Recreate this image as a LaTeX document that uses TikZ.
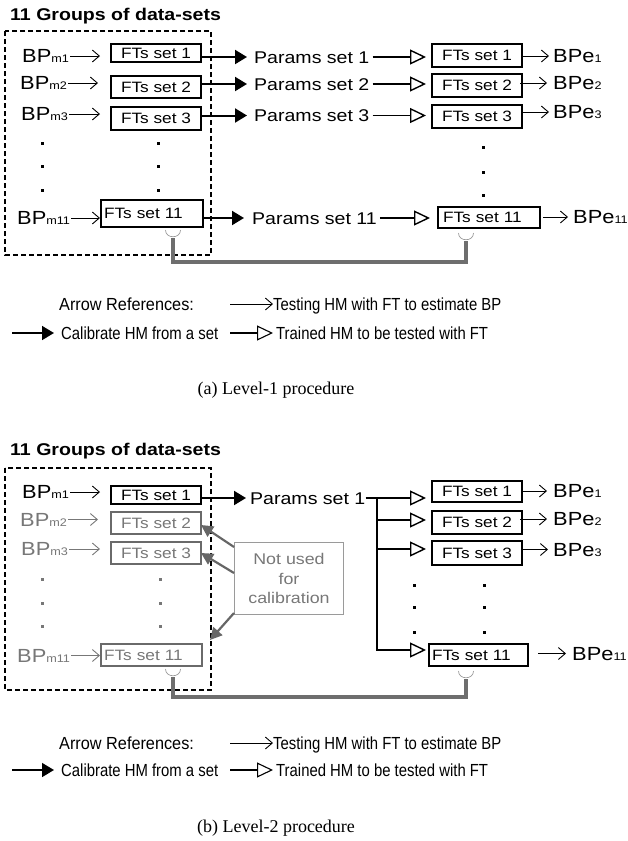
\documentclass[tikz,border=0pt]{standalone}
\usepackage{fontspec}
\setmainfont[FakeStretch=1.15]{Liberation Sans}
\newfontfamily\legfont[FakeStretch=0.85]{Liberation Sans}
\newfontfamily\legfontw[FakeStretch=0.93]{Liberation Sans}
\newfontfamily\capfont{Liberation Serif}
\usetikzlibrary{arrows.meta}
\definecolor{fbgray}{HTML}{6E6E6E}
\definecolor{gtext}{HTML}{777777}
\definecolor{gbox}{HTML}{6A6A6A}
\definecolor{nbox}{HTML}{9A9A9A}
\definecolor{garrow}{HTML}{666666}
\newcommand{\myfs}[1]{\fontsize{#1}{#1}\selectfont}
\newcommand{\bpmlab}[1]{{\myfs{19}BP}{\myfs{11}m#1}}
\newcommand{\bpelab}[1]{{\myfs{19}BPe}{\myfs{11}#1}}
\newcommand{\sqdot}[3]{\fill[#3] ({#1-1.5},{#2-1.5}) rectangle ++(3,3);}
\tikzset{
  ftbox/.style={draw, line width=2pt, inner sep=0pt, minimum width=90pt,
    font=\myfs{15}, text height=10.7pt, text depth=0pt},
  gftbox/.style={ftbox, draw=gbox, text=gtext},
  leftft/.style={inner xsep=3pt, align=left, text width=#1},
  bplab/.style={inner sep=0pt, anchor=west, text height=13.6pt, text depth=0pt},
  partxt/.style={inner sep=0pt, anchor=west, font=\myfs{17}, text height=12.2pt, text depth=0pt},
  legtxt/.style={inner sep=0pt, anchor=west, font=\legfont\myfs{17.5}, text height=12.5pt, text depth=0pt},
  legreftxt/.style={legtxt, font=\legfontw\myfs{17.5}},
  titletxt/.style={inner sep=0pt, anchor=west, font=\bfseries\myfs{17}, text height=12.2pt, text depth=0pt},
  captxt/.style={inner sep=0pt, font=\capfont\myfs{18}},
  testarr/.style={line width=0.9pt, -{Straight Barb[length=7pt,width=12pt]}},
  calarr/.style={line width=2pt, -{Triangle[length=12pt,width=14pt]}},
  trainarr/.style={line width=1.4pt, -{Triangle[open,length=16pt,width=15pt,fill=white]}},
  grayarr/.style={draw=garrow, line width=2.2pt, -{Triangle[length=12pt,width=12pt]}},
  feedback/.style={draw=fbgray, line width=4.5pt, line join=miter},
  cupline/.style={draw=gray!80, line width=0.7pt},
  dashbox/.style={line width=2pt, dash pattern=on 5pt off 3pt},
  notused/.style={draw=nbox, line width=1pt, text=gtext, inner sep=0pt,
    minimum width=109pt, minimum height=72pt, align=center,
    font=\fontsize{15.5}{19.5}\selectfont}
}
\begin{document}
\begin{tikzpicture}[x=1pt,y=-1pt]
\useasboundingbox (0,0) rectangle (628,841);

% ================= Panel (a) =================
\node[titletxt] (titlea) at (10,14) {11 Groups of data-sets};
\draw[dashbox] (5,31) rectangle (211,255);

\node[bplab] (bpm1a) at (22,56) {\bpmlab{1}};
\node[bplab] (bpm2a) at (20,83) {\bpmlab{2}};
\node[bplab] (bpm3a) at (21,114) {\bpmlab{3}};
\node[bplab] (bpm11a) at (17,218) {\bpmlab{11}};

\node[ftbox, minimum height=18pt] (ft1a) at (156,53) {FTs set 1};
\node[ftbox, minimum height=22pt] (ft2a) at (156,87) {FTs set 2};
\node[ftbox, minimum height=23pt] (ft3a) at (156,118.5) {FTs set 3};
\node[ftbox, leftft=96pt, minimum height=27pt] (ft11a) at (152,213.5) {FTs set 11};

\foreach \yy in {143,166,190}{\sqdot{42}{\yy}{black}\sqdot{158}{\yy}{black}}

\draw[testarr, shorten <=1pt, shorten >=10pt] (bpm1a.east) -- (bpm1a.east -| ft1a.west);
\draw[testarr, shorten <=1pt, shorten >=12pt] (bpm2a.east) -- (bpm2a.east -| ft2a.west);
\draw[testarr, shorten <=1pt, shorten >=10pt] (bpm3a.east) -- (bpm3a.east -| ft3a.west);
\draw[testarr, shorten <=1pt, shorten >=0pt] (bpm11a.east) -- (bpm11a.east -| ft11a.west);

\node[partxt] (p1a) at (254,57) {Params set 1};
\node[partxt] (p2a) at (254,84) {Params set 2};
\node[partxt] (p3a) at (254,115.5) {Params set 3};
\node[partxt] (p11a) at (252,218) {Params set 11};

\draw[calarr, shorten >=7pt] (p1a.west -| ft1a.east) -- (p1a.west);
\draw[calarr, shorten >=7pt] (p2a.west -| ft2a.east) -- (p2a.west);
\draw[calarr, shorten >=7pt] (p3a.west -| ft3a.east) -- (p3a.west);
\draw[calarr, shorten >=8pt] (p11a.west -| ft11a.east) -- (p11a.west);

\node[ftbox, minimum height=23pt] (ft1ra) at (477,55.5) {FTs set 1};
\node[ftbox, minimum height=23pt] (ft2ra) at (477,85.5) {FTs set 2};
\node[ftbox, minimum height=23pt] (ft3ra) at (477,116.5) {FTs set 3};
\node[ftbox, leftft=96pt, minimum height=21pt] (ft11ra) at (489,217.5) {\hspace*{2pt}FTs set 11};

\draw[trainarr, shorten <=3pt, shorten >=5pt] (p1a.east) -- (p1a.east -| ft1ra.west);
\draw[trainarr, shorten <=3pt, shorten >=5pt] (p2a.east) -- (p2a.east -| ft2ra.west);
\draw[trainarr, shorten <=3pt, shorten >=5pt] (p3a.east) -- (p3a.east -| ft3ra.west);
\draw[trainarr, shorten <=3pt, shorten >=7pt] (p11a.east) -- (p11a.east -| ft11ra.west);

\foreach \yy in {147,172,195}{\sqdot{483}{\yy}{black}}

\node[bplab] (bpe1a) at (553,56) {\bpelab{1}};
\node[bplab] (bpe2a) at (553,83) {\bpelab{2}};
\node[bplab] (bpe3a) at (553,112) {\bpelab{3}};
\node[bplab] (bpe11a) at (573,217) {\bpelab{11}};

\draw[testarr, shorten >=4pt] (bpe1a.west -| ft1ra.east) -- (bpe1a.west);
\draw[testarr, shorten <=-3pt, shorten >=6pt] (bpe2a.west -| ft2ra.east) -- (bpe2a.west);
\draw[testarr, shorten >=4pt] (bpe3a.west -| ft3ra.east) -- (bpe3a.west);
\draw[testarr, shorten <=2pt, shorten >=5pt] (bpe11a.west -| ft11ra.east) -- (bpe11a.west);

\draw[cupline] (165.5,230) .. controls (165.5,239) and (180.5,239) .. (180.5,230);
\draw[cupline] (458.5,233) .. controls (458.5,242) and (473.5,242) .. (473.5,233);
\coordinate (fbla) at (173,238);
\coordinate (fbra) at (466,241);
\draw[feedback] (fbla) -- ++(0,24) -| (fbra);

\node[legreftxt] (lgrefa) at (59,304) {Arrow References:};
\node[legtxt] (lgtesta) at (273,304) {Testing HM with FT to estimate BP};
\node[legtxt] (lgcala) at (61,333) {Calibrate HM from a set};
\node[legtxt] (lgtraina) at (276,333) {Trained HM to be tested with FT};
\coordinate (lgs1a) at (230,304);
\coordinate (lgs2a) at (12,333);
\coordinate (lgs3a) at (230,333);
\draw[testarr] (lgs1a) -- (lgtesta.west);
\draw[calarr, line width=1.6pt, shorten >=7pt] (lgs2a) -- (lgcala.west);
\draw[trainarr, line width=1.1pt, shorten >=3pt] (lgs3a) -- (lgtraina.west);

\node[captxt] (capa) at (276,390) {(a) Level-1 procedure};

% ================= Panel (b) =================
\node[titletxt] (titleb) at (10,449) {11 Groups of data-sets};
\draw[dashbox] (5,468) rectangle (211,690);

\node[bplab] (bpm1b) at (22,492) {\bpmlab{1}};
\node[bplab, text=gtext] (bpm2b) at (20,519.5) {\bpmlab{2}};
\node[bplab, text=gtext] (bpm3b) at (21,549) {\bpmlab{3}};
\node[bplab, text=gtext] (bpm11b) at (17,655.5) {\bpmlab{11}};

\node[ftbox, minimum height=18pt] (ft1b) at (156,495) {FTs set 1};
\node[gftbox, minimum height=22pt] (ft2b) at (156,523) {FTs set 2};
\node[gftbox, minimum height=22pt] (ft3b) at (156,553) {FTs set 3};
\node[gftbox, leftft=95pt, minimum height=22pt] (ft11b) at (151.5,655) {FTs set 11};

\foreach \yy in {579,603,626}{\sqdot{42}{\yy}{gtext}\sqdot{160}{\yy}{gtext}}

\draw[testarr, shorten <=1pt, shorten >=10pt] (bpm1b.east) -- (bpm1b.east -| ft1b.west);
\draw[testarr, draw=gtext, shorten <=1pt, shorten >=12pt] (bpm2b.east) -- (bpm2b.east -| ft2b.west);
\draw[testarr, draw=gtext, shorten <=1pt, shorten >=10pt] (bpm3b.east) -- (bpm3b.east -| ft3b.west);
\draw[testarr, draw=gtext, shorten <=1pt, shorten >=0pt] (bpm11b.east) -- (bpm11b.east -| ft11b.west);

\node[partxt] (p1b) at (250,498) {Params set 1};
\draw[calarr, shorten >=4pt] (p1b.west -| ft1b.east) -- (p1b.west);

\node[notused] (nub) at (289,578.5) {Not used\\for\\calibration};
\draw[grayarr] ([yshift=-5pt]nub.north west) -- ([xshift=-1pt,yshift=-2pt]ft2b.east);
\draw[grayarr] ([yshift=-31pt]nub.north west) -- ([xshift=-1pt]ft3b.east);
\draw[grayarr] ([yshift=2pt]nub.south west) -- ([xshift=7pt,yshift=3pt]ft11b.north east);

\node[ftbox, minimum height=21pt] (ft1rb) at (477,491.5) {FTs set 1};
\node[ftbox, minimum height=23pt] (ft2rb) at (477,522.5) {FTs set 2};
\node[ftbox, minimum height=24pt] (ft3rb) at (477,553) {FTs set 3};
\node[ftbox, leftft=93pt, minimum height=22pt] (ft11rb) at (478.5,655) {FTs set 11};

\coordinate (trunk) at (377,498);
\draw[trainarr, shorten >=5pt] (p1b.east) -- (p1b.east -| ft1rb.west);
\draw[trainarr, shorten >=5pt] (trunk) |- ([yshift=2.5pt]ft2rb.west);
\draw[trainarr, shorten >=5pt] (trunk) |- ([yshift=4pt]ft3rb.west);
\draw[trainarr, shorten >=2pt] (trunk) |- ([yshift=5pt]ft11rb.west);

\foreach \yy in {585,607,632}{\sqdot{414}{\yy}{black}\sqdot{484}{\yy}{black}}

\node[bplab] (bpe1b) at (553,491) {\bpelab{1}};
\node[bplab] (bpe2b) at (553,519) {\bpelab{2}};
\node[bplab] (bpe3b) at (553,549.5) {\bpelab{3}};
\node[bplab] (bpe11b) at (572,653.5) {\bpelab{11}};

\draw[testarr, shorten >=6pt] (bpe1b.west -| ft1rb.east) -- (bpe1b.west);
\draw[testarr, shorten <=-3pt, shorten >=6pt] (bpe2b.west -| ft2rb.east) -- (bpe2b.west);
\draw[testarr, shorten >=5pt] (bpe3b.west -| ft3rb.east) -- (bpe3b.west);
\draw[testarr, shorten <=9pt, shorten >=6pt] (bpe11b.west -| ft11rb.east) -- (bpe11b.west);

\draw[cupline] (165.5,669) .. controls (165.5,678) and (180.5,678) .. (180.5,669);
\draw[cupline] (458.5,671) .. controls (458.5,680) and (473.5,680) .. (473.5,671);
\coordinate (fblb) at (173,677);
\coordinate (fbrb) at (466,679);
\draw[feedback] (fblb) -- ++(0,20) -| (fbrb);

\node[legreftxt] (lgrefb) at (59,743) {Arrow References:};
\node[legtxt] (lgtestb) at (273,743) {Testing HM with FT to estimate BP};
\node[legtxt] (lgcalb) at (61,770) {Calibrate HM from a set};
\node[legtxt] (lgtrainb) at (276,770) {Trained HM to be tested with FT};
\coordinate (lgs1b) at (230,743);
\coordinate (lgs2b) at (12,770);
\coordinate (lgs3b) at (230,770);
\draw[testarr] (lgs1b) -- (lgtestb.west);
\draw[calarr, line width=1.6pt, shorten >=7pt] (lgs2b) -- (lgcalb.west);
\draw[trainarr, line width=1.1pt, shorten >=3pt] (lgs3b) -- (lgtrainb.west);

\node[captxt] (capb) at (276,828) {(b) Level-2 procedure};
\end{tikzpicture}
\end{document}
